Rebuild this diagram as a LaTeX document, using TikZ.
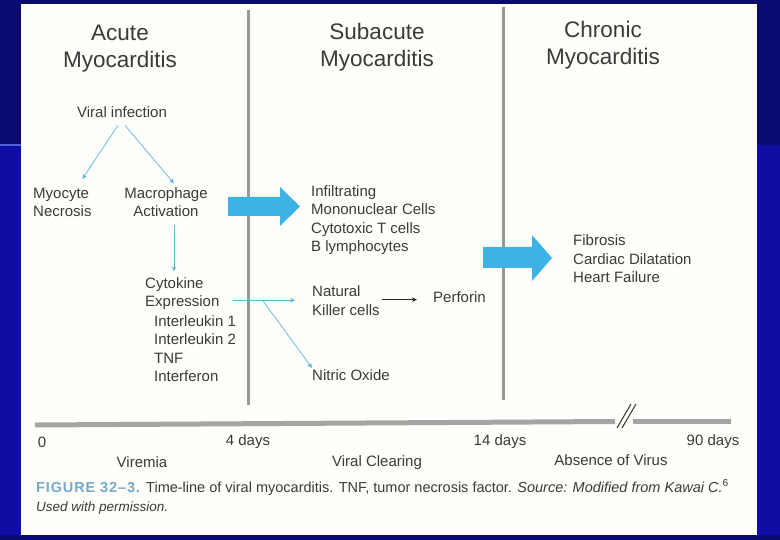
\documentclass[tikz,border=0pt]{standalone}
\usepackage{fontspec}
\setmainfont{Liberation Sans}
\usetikzlibrary{arrows.meta,calc}
\definecolor{bgtop}{RGB}{10,10,112}
\definecolor{bglow}{RGB}{14,14,165}
\definecolor{bgline}{RGB}{80,100,215}
\definecolor{panel}{RGB}{254,254,250}
\definecolor{txt}{RGB}{58,58,58}
\definecolor{thinblue}{RGB}{95,180,222}
\definecolor{fatblue}{RGB}{60,178,230}
\definecolor{rulegray}{RGB}{152,152,152}
\definecolor{bargray}{RGB}{165,165,165}
\definecolor{capblue}{RGB}{115,170,205}
\begin{document}
\begin{tikzpicture}[x=1pt,y=-1pt,
  title/.style={font=\fontsize{22.5}{27}\selectfont, text=txt, align=center, inner sep=0, anchor=base},
  body/.style={font=\fontsize{15}{18.5}\selectfont, text=txt, inner sep=0, align=left, anchor=base west},
  bodyc/.style={body, align=center, anchor=base},
  tl/.style={font=\fontsize{15}{18}\selectfont, text=txt, inner sep=0, anchor=base},
  thinarrow/.style={draw=thinblue, line width=0.7, -{Stealth[length=5pt,width=4.5pt]}},
  blackarrow/.style={draw=black!85, line width=0.8, -{Stealth[length=5pt,width=4.5pt]}},
  period/.style={draw=rulegray, line width=3},
  bar/.style={draw=bargray, line width=5},
  bigarrow/.style={fill=fatblue}
]
\useasboundingbox (0,0) rectangle (780,540);
% background
\fill[bglow] (0,0) rectangle (780,540);
\fill[bgtop] (0,0) rectangle (780,145);
\fill[bgtop] (0,535) rectangle (780,540);
\draw[bgline, line width=2] (0,145) -- (21,145);
\fill[panel] (21,4) rectangle (757,535);

% period separators
\draw[period] (248,10) -- (248,405);
\draw[period] (503.5,7) -- (503.5,400);

% titles (anchor = baseline of last line)
\node[title] (t1) at (120,68) {Acute\\Myocarditis};
\node[title] (t2) at (377,67) {Subacute\\Myocarditis};
\node[title] (t3) at (603,65) {Chronic\\Myocarditis};

% acute column
\node[tl] (vi) at (122,118) {Viral infection};
\node[body] (myo) at (33,217) {Myocyte\\Necrosis};
\node[bodyc] (mac) at (166,217) {Macrophage\\Activation};
\node[body] (cyt) at (145,307) {Cytokine\\Expression};
\node[body] (cytl) at (154,381.5) {Interleukin 1\\Interleukin 2\\TNF\\Interferon};

% subacute column
\node[body] (inf) at (311,252) {Infiltrating\\Mononuclear Cells\\Cytotoxic T cells\\B lymphocytes};
\node[body] (nk) at (312,315.5) {Natural\\Killer cells};
\node[tl, anchor=base west] (perf) at (433,303) {Perforin};
\node[tl, anchor=base west] (no) at (312,381) {Nitric Oxide};

% chronic column
\node[body] (fib) at (573,283) {Fibrosis\\Cardiac Dilatation\\Heart Failure};

% thin connectors
\draw[thinarrow] ($(vi.south)+(-4,7)$) -- ($(myo.north)+(20,-9)$);
\draw[thinarrow] ($(vi.south)+(3,7)$) -- ($(mac.north)+(8,-4)$);
\draw[thinarrow] ($(mac.south)+(8,8)$) -- ($(mac.south |- cyt.north)+(8,-6)$);
\coordinate (split) at ($(cyt.south east)+(43,-10)$);
\draw[thinarrow] ($(cyt.south east)+(13,-10)$) -- ($(nk.west |- split)+(-17,0)$);
\draw[thinarrow] (split) -- ($(no.north west)+(0,-2)$);
\draw[blackarrow] ($(nk.east |- perf.west)+(2,2)$) -- ($(perf.west)+(-16,2)$);

% big arrows
\fill[bigarrow] (228,197) -- (280,197) -- (280,187) -- (300,206.5) -- (280,226) -- (280,216) -- (228,216) -- cycle;
\fill[bigarrow] (483,247) -- (532,247) -- (532,235) -- (552,258) -- (532,281) -- (532,268) -- (483,268) -- cycle;

% timeline
\draw[bar] (35,425) -- (615,421.5);
\draw[bar] (633,421.5) -- (731,421.5);
\draw[draw=black!80, line width=1] (617,428) -- (631,404);
\draw[draw=black!80, line width=1] (622,428) -- (636,404);
\node[tl] (d0) at (42,447) {0};
\node[tl] (d4) at (248,446) {4 days};
\node[tl] (d14) at (500,445) {14 days};
\node[tl] (d90) at (713,445) {90 days};
\node[tl] (ph1) at (142,467) {Viremia};
\node[tl] (ph2) at (377,466) {Viral Clearing};
\node[tl] (ph3) at (611,465) {Absence of Virus};

% caption
\node[anchor=base west, inner sep=0, text=txt, font=\fontsize{14.5}{17}\selectfont] (cap1) at (36,492)
  {\textcolor{capblue}{\addfontfeature{LetterSpace=6}\textbf{FIGURE 32–3.}} Time-line of viral myocarditis. TNF, tumor necrosis factor. \textit{Source: Modified from Kawai C.}\textsuperscript{6}};
\node[anchor=base west, inner sep=0, text=txt, font=\fontsize{13.5}{16}\selectfont\itshape] (cap2) at (36,511) {Used with permission.};
\end{tikzpicture}
\end{document}
